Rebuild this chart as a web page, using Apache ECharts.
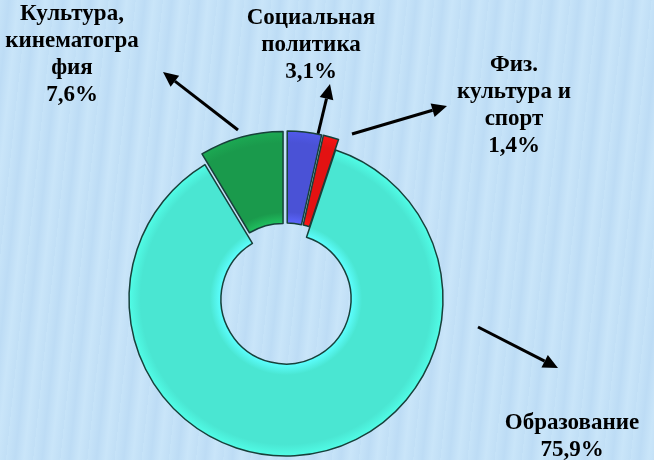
<!DOCTYPE html>
<html>
<head>
<meta charset="utf-8">
<script src="https://cdn.jsdelivr.net/npm/echarts@6/dist/echarts.min.js"></script>
<style>
  html, body { margin: 0; padding: 0; }
  #chart {
    width: 654px; height: 460px;
    background: repeating-linear-gradient(96deg, #c6e3f8 0px, #bddcf5 9px, #c9e5f9 18px, #c1dff6 27px);
  }
</style>
</head>
<body>
<div id="chart"></div>
<script>
// data, clockwise from 12 o'clock
const names = ['Социальная\nполитика', 'Физ.\nкультура и\nспорт', 'Образование', 'Культура,\nкинематогра\nфия']
const shares = [3.1, 1.4, 75.9, 7.6]
const colors = ['#4a52d6', '#e31212', '#4ae6d2', '#1a9a4c']
const pulled = [true, true, false, true]

// where the text blocks sit (top centre of each)
const labelPos = [[311, 5], [514, 52], [572, 410], [72, 1]]
// arrows: [from, to]
const arrows = [
  [[238, 130], [163, 72]],
  [[318, 134], [330, 84]],
  [[352, 134], [447, 106]],
  [[478, 327], [558, 368]]
]

const cx = 286, cy = 299, r0 = 65, r1 = 157

function shade(c) {
  // mild tube shading across the ring
  const dark = echarts.color.lift(c, -0.25)
  return {
    type: 'radial', x: cx, y: cy, r: r1 + 12, global: true,
    colorStops: [
      { offset: 0, color: dark },
      { offset: r0 / (r1 + 12), color: dark },
      { offset: 0.45, color: c },
      { offset: 0.86, color: c },
      { offset: 0.93, color: echarts.color.lift(c, -0.1) },
      { offset: 1, color: dark }
    ]
  }
}

function arrow(a) {
  const [p, q] = a
  const dx = q[0] - p[0], dy = q[1] - p[1]
  const len = Math.sqrt(dx * dx + dy * dy)
  const ux = dx / len, uy = dy / len
  const hl = 15, hw = 7
  const bx = q[0] - ux * hl, by = q[1] - uy * hl
  return [
    {
      type: 'line',
      shape: { x1: p[0], y1: p[1], x2: bx, y2: by },
      style: { stroke: '#000', lineWidth: 3 }
    },
    {
      type: 'polygon',
      shape: { points: [q, [bx - uy * hw, by + ux * hw], [bx + uy * hw, by - ux * hw]] },
      style: { fill: '#000' }
    }
  ]
}

const labels = names.map((n, i) => ({
  type: 'text',
  x: labelPos[i][0],
  y: labelPos[i][1],
  style: {
    text: n + '\n' + String(shares[i]).replace('.', ',') + '%',
    fontFamily: 'Liberation Serif',
    fontWeight: 'bold',
    fontSize: 23,
    lineHeight: 27,
    fill: '#000',
    align: 'center',
    verticalAlign: 'top'
  }
}))

const chart = echarts.init(document.getElementById('chart'))

chart.setOption({
  backgroundColor: 'transparent',
  animation: false,
  series: [{
    type: 'pie',
    center: [cx, cy],
    radius: [r0, r1],
    startAngle: 90,
    clockwise: true,
    selectedMode: 'multiple',
    selectedOffset: 11,
    data: names.map((n, i) => ({
      name: n,
      value: shares[i],
      selected: pulled[i],
      itemStyle: { color: shade(colors[i]) }
    })),
    itemStyle: { borderColor: '#17403a', borderWidth: 1.5 },
    emphasis: { disabled: true },
    label: { show: false },
    labelLine: { show: false }
  }],
  graphic: arrows.flatMap(arrow).concat(labels)
})
</script>
</body>
</html>
